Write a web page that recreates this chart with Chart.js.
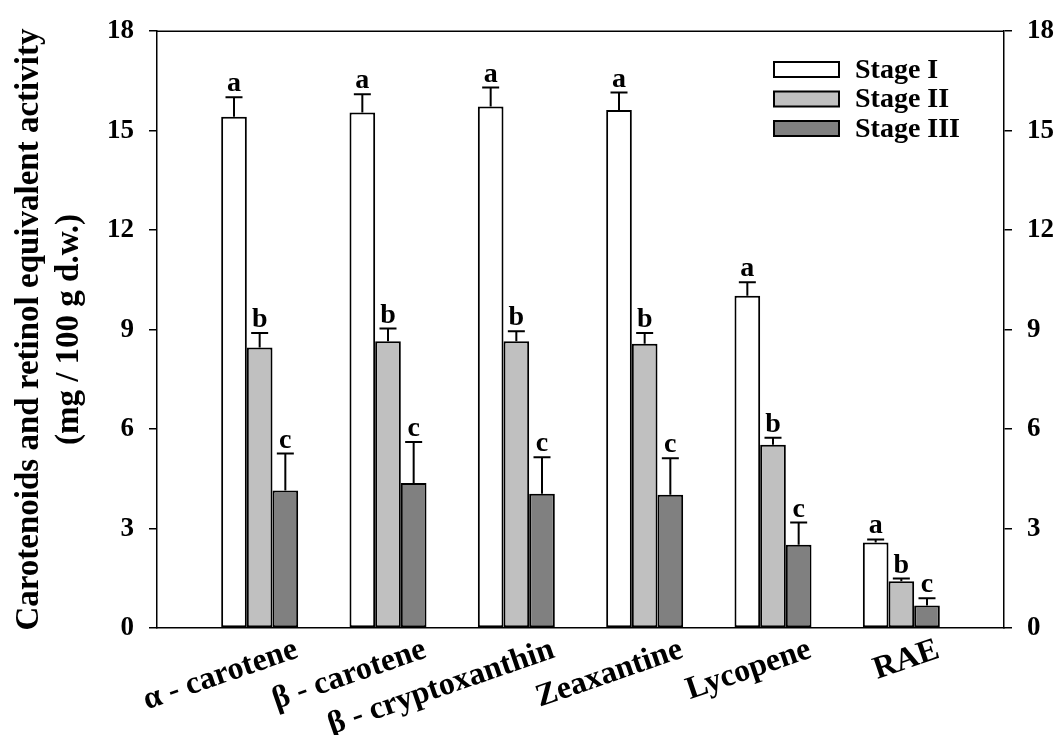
<!DOCTYPE html>
<html>
<head>
<meta charset="utf-8">
<script src="https://cdn.jsdelivr.net/npm/chart.js@4.4.1/dist/chart.umd.min.js"></script>
<style>
  html, body { margin: 0; padding: 0; background: #ffffff; }
  #wrap { width: 1059px; height: 735px; }
</style>
</head>
<body>
<div id="wrap"><canvas id="c" width="1059" height="735"></canvas></div>
<script>
const categories = ['α - carotene', 'β - carotene', 'β - cryptoxanthin', 'Zeaxantine', 'Lycopene', 'RAE'];
const seriesNames = ['Stage I', 'Stage II', 'Stage III'];
const stage1 = [15.42, 15.55, 15.73, 15.62, 10.02, 2.58];
const stage2 = [8.46, 8.65, 8.65, 8.57, 5.53, 1.41];
const stage3 = [4.15, 4.37, 4.05, 4.02, 2.51, 0.68];
const err1 = [0.59, 0.55, 0.57, 0.53, 0.41, 0.09];
const err2 = [0.44, 0.38, 0.30, 0.33, 0.21, 0.08];
const err3 = [1.11, 1.24, 1.10, 1.10, 0.67, 0.22];
const letters1 = ['a', 'a', 'a', 'a', 'a', 'a'];
const letters2 = ['b', 'b', 'b', 'b', 'b', 'b'];
const letters3 = ['c', 'c', 'c', 'c', 'c', 'c'];
const yTicks = [0, 3, 6, 9, 12, 15, 18];
const yTitle = ['Carotenoids and retinol equivalent activity', '(mg / 100 g d.w.)'];

const FONT = '"Liberation Serif", "Times New Roman", serif';
Chart.defaults.color = '#000';
Chart.defaults.font.family = FONT;
Chart.defaults.font.weight = 'bold';

const toPoints = arr => arr.map((v, i) => ({ x: i, y: v }));

const errorPlugin = {
  id: 'errorLetters',
  afterDatasetsDraw(chart) {
    const ctx = chart.ctx;
    const yScale = chart.scales.y;
    chart.data.datasets.forEach((ds, di) => {
      const meta = chart.getDatasetMeta(di);
      meta.data.forEach((el, j) => {
        const v = ds.data[j].y;
        const e = ds.errors[j];
        const yTop = yScale.getPixelForValue(v);
        const yErr = yScale.getPixelForValue(v + e);
        ctx.save();
        ctx.strokeStyle = '#000';
        ctx.lineWidth = 2;
        ctx.beginPath();
        ctx.moveTo(el.x, yTop);
        ctx.lineTo(el.x, yErr);
        ctx.moveTo(el.x - 8.5, yErr);
        ctx.lineTo(el.x + 8.5, yErr);
        ctx.stroke();
        ctx.fillStyle = '#000';
        ctx.font = 'bold 28px ' + FONT;
        ctx.textAlign = 'center';
        ctx.textBaseline = 'alphabetic';
        ctx.fillText(ds.letters[j], el.x, yErr - 6);
        ctx.restore();
      });
    });
  }
};

const framePlugin = {
  id: 'frameTop',
  afterDraw(chart) {
    const a = chart.chartArea;
    const ctx = chart.ctx;
    ctx.save();
    ctx.strokeStyle = '#000';
    ctx.lineWidth = 1.5;
    ctx.beginPath();
    ctx.moveTo(a.left, a.top);
    ctx.lineTo(a.right, a.top);
    ctx.stroke();
    ctx.restore();
  }
};

const legendPlugin = {
  id: 'innerLegend',
  afterDraw(chart, args, opts) {
    const ctx = chart.ctx;
    ctx.save();
    chart.data.datasets.forEach((ds, i) => {
      const top = opts.top + i * opts.rowGap;
      ctx.fillStyle = ds.backgroundColor;
      ctx.fillRect(opts.left, top, opts.boxW, opts.boxH);
      ctx.strokeStyle = '#000';
      ctx.lineWidth = 2;
      ctx.strokeRect(opts.left, top, opts.boxW, opts.boxH);
      ctx.fillStyle = '#000';
      ctx.font = 'bold 28px ' + FONT;
      ctx.textAlign = 'left';
      ctx.textBaseline = 'middle';
      ctx.fillText(ds.label, opts.left + opts.boxW + 16, top + opts.boxH / 2 + 1);
    });
    ctx.restore();
  }
};

const colors = ['#ffffff', '#c0c0c0', '#808080'];
const values = [stage1, stage2, stage3];
const errs = [err1, err2, err3];
const lets = [letters1, letters2, letters3];

const datasets = seriesNames.map((name, i) => ({
  label: name,
  data: toPoints(values[i]),
  errors: errs[i],
  letters: lets[i],
  backgroundColor: colors[i],
  borderColor: '#000',
  borderWidth: 2,
  borderSkipped: false,
  categoryPercentage: 0.6,
  barPercentage: 1.0,
  yAxisID: 'y'
}));

const yAxisCommon = {
  type: 'linear',
  min: 0,
  max: 18,
  afterBuildTicks: axis => { axis.ticks = yTicks.map(v => ({ value: v })); },
  ticks: { font: { size: 27, weight: 'bold', family: FONT }, padding: 15, color: '#000' },
  grid: { display: true, drawOnChartArea: false, drawTicks: true, tickLength: 8, color: '#000', lineWidth: 1.5 },
  border: { display: true, color: '#000', width: 1.5 }
};

new Chart(document.getElementById('c'), {
  type: 'bar',
  data: { datasets },
  options: {
    responsive: false,
    animation: false,
    devicePixelRatio: 1,
    layout: { padding: { top: 20, left: 0, right: 0, bottom: 0 } },
    plugins: {
      legend: { display: false },
      tooltip: { enabled: false },
      innerLegend: { left: 774, top: 62, boxW: 65, boxH: 15, rowGap: 29.5 }
    },
    scales: {
      x: {
        type: 'linear',
        offset: false,
        min: -0.8,
        max: 5.8,
        afterBuildTicks: axis => { axis.ticks = categories.map((_, i) => ({ value: i })); },
        afterFit: s => { s.height = 107; },
        ticks: {
          autoSkip: false,
          minRotation: 19,
          maxRotation: 19,
          labelOffset: 37,
          padding: 6,
          font: { size: 32, weight: 'bold', family: FONT, lineHeight: 1.0 },
          color: '#000',
          callback: v => categories[v]
        },
        grid: { display: false, drawTicks: false, offset: false },
        border: { display: true, color: '#000', width: 1.5 }
      },
      y: Object.assign({}, yAxisCommon, {
        position: 'left',
        afterFit: s => { s.width = 157; },
        title: {
          display: true,
          text: yTitle,
          font: { size: 33, weight: 'bold', family: FONT, lineHeight: 1.2 },
          padding: { top: 10, bottom: 0 },
          color: '#000'
        }
      }),
      y2: Object.assign({}, yAxisCommon, {
        position: 'right',
        afterFit: s => { s.width = 55; }
      })
    }
  },
  plugins: [errorPlugin, framePlugin, legendPlugin]
});
</script>
</body>
</html>
